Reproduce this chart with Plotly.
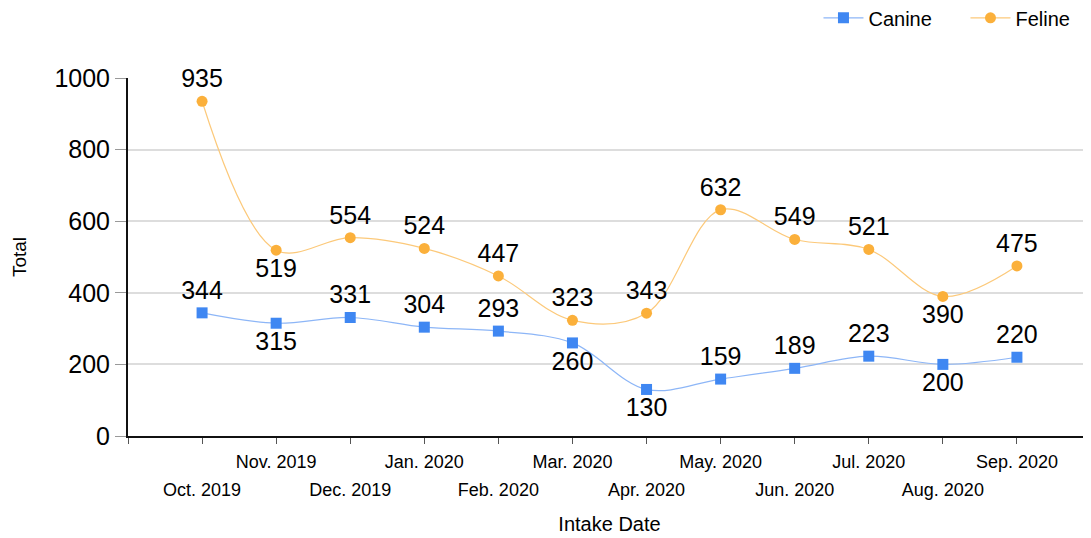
import plotly.graph_objects as go

months = ["Oct. 2019", "Nov. 2019", "Dec. 2019", "Jan. 2020", "Feb. 2020", "Mar. 2020",
          "Apr. 2020", "May. 2020", "Jun. 2020", "Jul. 2020", "Aug. 2020", "Sep. 2020"]
canine = [344, 315, 331, 304, 293, 260, 130, 159, 189, 223, 200, 220]
feline = [935, 519, 554, 524, 447, 323, 343, 632, 549, 521, 390, 475]

# where each data label sits relative to its point
canine_pos = ["top center", "bottom center", "top center", "top center", "top center", "bottom center",
              "bottom center", "top center", "top center", "top center", "bottom center", "top center"]
feline_pos = ["top center", "bottom center", "top center", "top center", "top center", "top center",
              "top center", "top center", "top center", "top center", "bottom center", "top center"]

idx = list(range(len(months)))

# staggered tick labels: odd months on upper row (xaxis), even months on lower row (xaxis2)
upper_vals = [-1] + idx + [12]
upper_text = [""] + [m if i % 2 else "" for i, m in enumerate(months)] + [""]
lower_vals = [i for i in idx if i % 2 == 0]
lower_text = [months[i] for i in lower_vals]

fig = go.Figure()
fig.add_trace(go.Scatter(
    x=idx, y=canine, name="Canine", mode="lines+markers+text",
    line=dict(color="#8db6f7", width=1.2, shape="spline"),
    marker=dict(color="#3f87f2", symbol="square", size=11),
    text=[str(v) for v in canine], textposition=canine_pos,
    textfont=dict(size=25, color="#000000"), cliponaxis=False,
))
fig.add_trace(go.Scatter(
    x=idx, y=feline, name="Feline", mode="lines+markers+text",
    line=dict(color="#fcc97a", width=1.2, shape="spline"),
    marker=dict(color="#fbb03b", symbol="circle", size=11),
    text=[str(v) for v in feline], textposition=feline_pos,
    textfont=dict(size=25, color="#000000"), cliponaxis=False,
))
# empty trace so the second (lower-row) x axis gets drawn
fig.add_trace(go.Scatter(x=[None], y=[None], xaxis="x2", showlegend=False, hoverinfo="skip"))

fig.update_layout(
    width=1083, height=530,
    margin=dict(l=120, r=0, t=70, b=102, autoexpand=False),
    paper_bgcolor="white", plot_bgcolor="white",
    font=dict(family="Arial, Liberation Sans, sans-serif", color="#000000"),
    legend=dict(orientation="h", x=0.717, xanchor="left", y=1.168, yanchor="middle",
                font=dict(size=20), itemwidth=40, entrywidth=92),
    xaxis=dict(
        range=[-1, 12], tickmode="array", tickvals=upper_vals, ticktext=upper_text,
        tickangle=0, automargin=False, ticklabelstandoff=2,
        showgrid=False, zeroline=False, showline=True, linecolor="#111111", linewidth=2,
        ticks="outside", ticklen=6, tickcolor="#555555", tickfont=dict(size=18),
        title=dict(text="Intake Date", font=dict(size=20), standoff=46),
    ),
    xaxis2=dict(
        range=[-1, 12], overlaying="x", anchor="y", side="bottom",
        tickmode="array", tickvals=lower_vals, ticktext=lower_text,
        tickangle=0, automargin=False, ticklabelstandoff=41,
        showgrid=False, zeroline=False, showline=False, ticks="",
        tickfont=dict(size=18),
    ),
    yaxis=dict(
        range=[0, 1000], tickvals=[0, 200, 400, 600, 800, 1000], automargin=False,
        showgrid=True, gridcolor="#dddddd", gridwidth=2, zeroline=False,
        showline=True, linecolor="#111111", linewidth=2,
        ticks="outside", ticklen=11, tickcolor="#999999", tickfont=dict(size=25),
        title=dict(text="Total", font=dict(size=19), standoff=23),
    ),
)

fig.write_html("out.html")
